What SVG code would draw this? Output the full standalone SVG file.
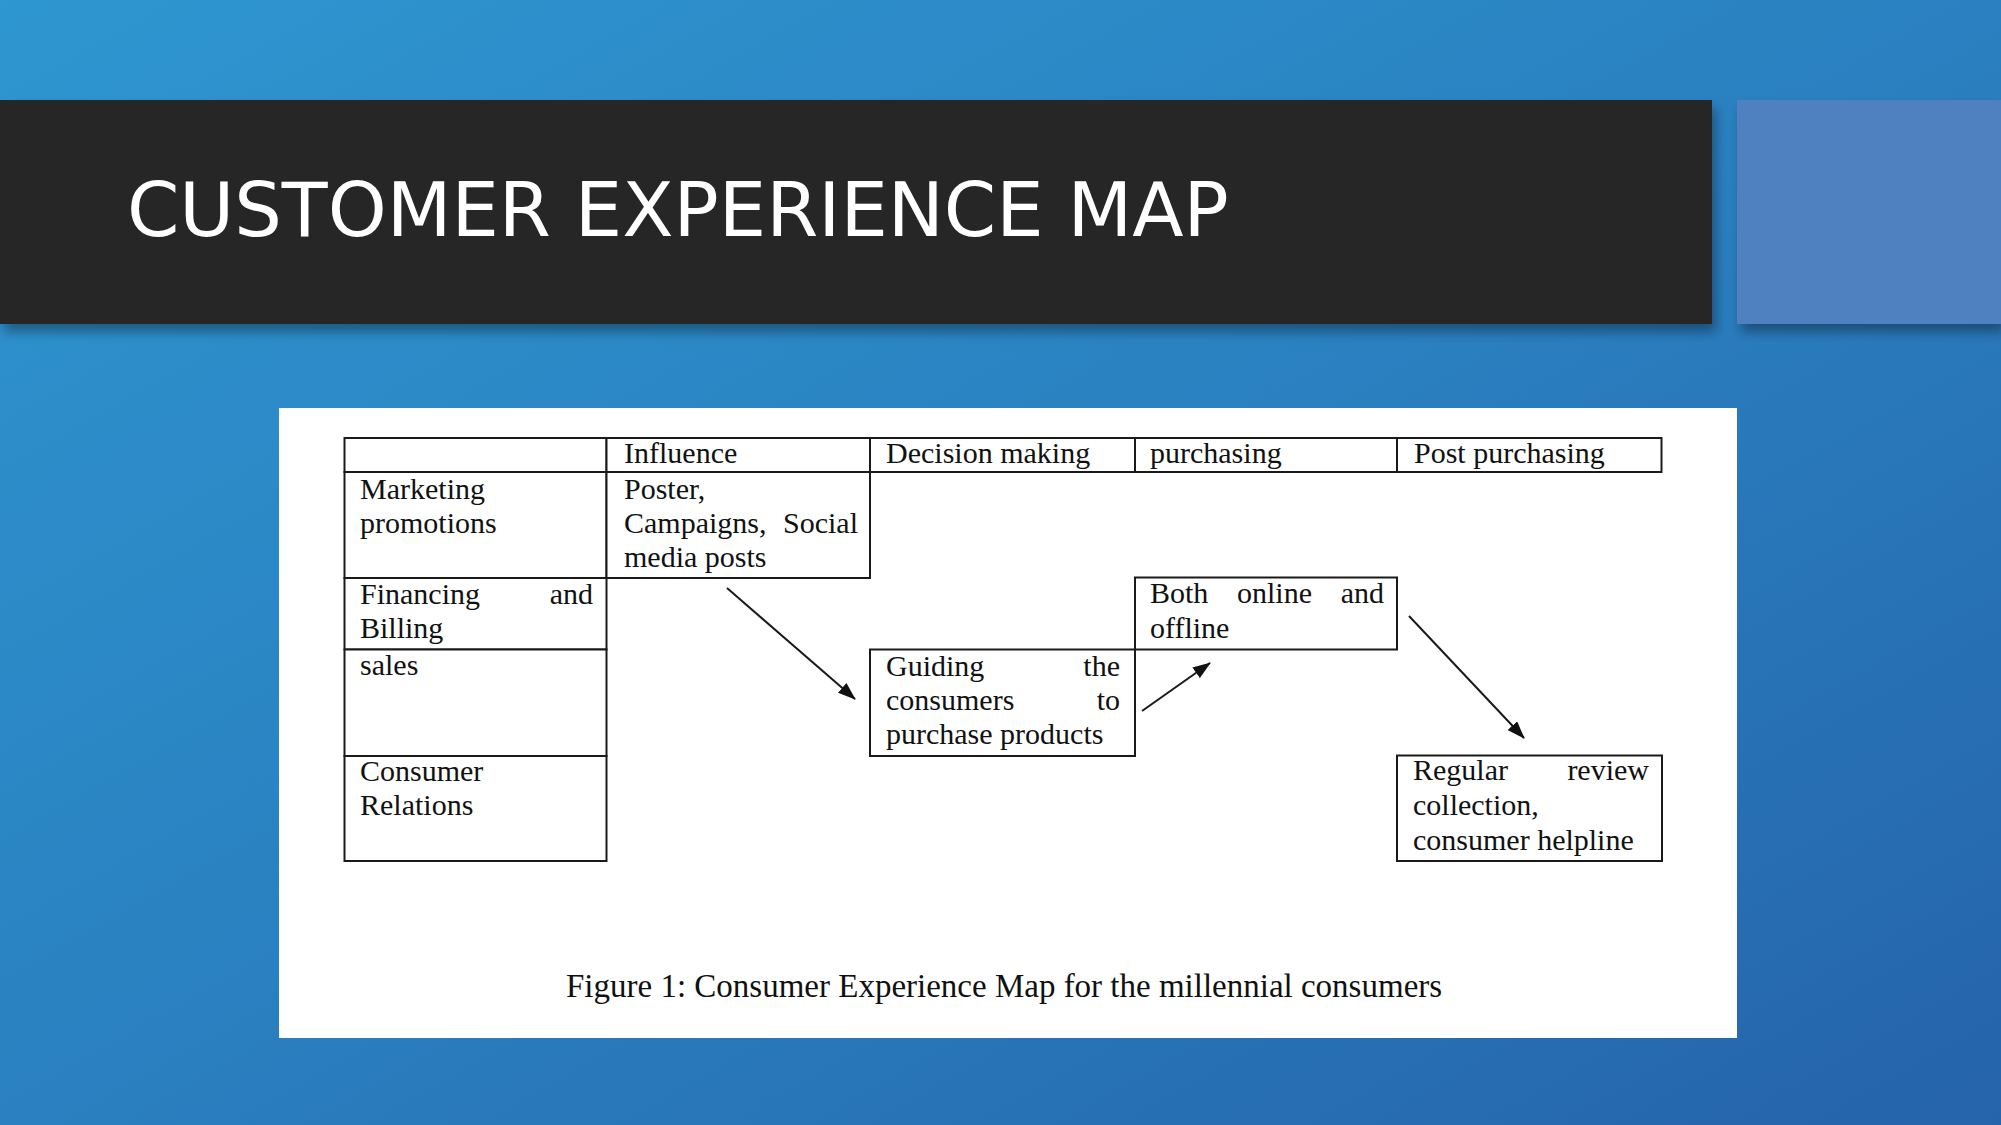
<svg xmlns="http://www.w3.org/2000/svg" width="2001" height="1125" viewBox="0 0 2001 1125">
  <defs>
    <linearGradient id="bg" x1="0" y1="0" x2="1" y2="1">
      <stop offset="0" stop-color="#2e96d0"/>
      <stop offset="0.5" stop-color="#2a80c0"/>
      <stop offset="1" stop-color="#2563ab"/>
    </linearGradient>
    <filter id="shadow" x="-5%" y="-10%" width="110%" height="130%">
      <feDropShadow dx="4" dy="8" stdDeviation="6" flood-color="#000" flood-opacity="0.35"/>
    </filter>
    <marker id="arrow" markerUnits="userSpaceOnUse" markerWidth="18" markerHeight="13" refX="17" refY="6.5" orient="auto">
      <path d="M0,0 L18,6.5 L0,13 z" fill="#111"/>
    </marker>
    <style>
      .cell { fill: #fff; stroke: #1a1a1a; stroke-width: 2; }
      .t { font-family: "Liberation Serif", "Times New Roman", serif; font-size: 30px; fill: #111; }
      .cap { font-family: "Liberation Serif", "Times New Roman", serif; font-size: 33px; fill: #111; }
      .title { font-family: "DejaVu Sans", "Liberation Sans", sans-serif; font-size: 75px; fill: #fff; }
      .conn { stroke: #1a1a1a; stroke-width: 2; fill: none; marker-end: url(#arrow); }
    </style>
  </defs>

  <rect x="0" y="0" width="2001" height="1125" fill="url(#bg)"/>

  <g id="banner">
    <rect x="0" y="100" width="1712" height="224" fill="#262626" filter="url(#shadow)"/>
    <text class="title" x="127" y="236">CUSTOMER EXPERIENCE MAP</text>
  </g>
  <g id="accent">
    <rect x="1737" y="100" width="264" height="224" fill="#4f80bf" filter="url(#shadow)"/>
  </g>

  <g id="figure">
    <rect x="279" y="408" width="1458" height="630" fill="#fff"/>
  </g>

  <g id="header">
    <rect class="cell" x="344.5" y="438" width="262" height="34"/>
    <rect class="cell" x="606.5" y="438" width="263.5" height="34"/>
    <rect class="cell" x="870" y="438" width="265" height="34"/>
    <rect class="cell" x="1135" y="438" width="262" height="34"/>
    <rect class="cell" x="1397" y="438" width="264.5" height="34"/>
    <text class="t" x="624" y="463">Influence</text>
    <text class="t" x="886" y="463">Decision making</text>
    <text class="t" x="1150" y="463">purchasing</text>
    <text class="t" x="1414" y="463">Post purchasing</text>
  </g>

  <g id="marketing">
    <rect class="cell" x="344.5" y="472" width="262" height="106"/>
    <text class="t" x="360" y="499">Marketing</text>
    <text class="t" x="360" y="533">promotions</text>
  </g>
  <g id="influence-cell">
    <rect class="cell" x="606.5" y="472" width="263.5" height="106"/>
    <text class="t" x="624" y="499">Poster,</text>
    <text class="t" x="624" y="533">Campaigns,</text>
    <text class="t" x="858" y="533" text-anchor="end">Social</text>
    <text class="t" x="624" y="567">media posts</text>
  </g>
  <g id="financing">
    <rect class="cell" x="344.5" y="578" width="262" height="71.5"/>
    <text class="t" x="360" y="604">Financing</text>
    <text class="t" x="593" y="604" text-anchor="end">and</text>
    <text class="t" x="360" y="638">Billing</text>
  </g>
  <g id="sales">
    <rect class="cell" x="344.5" y="649.5" width="262" height="106.5"/>
    <text class="t" x="360" y="675">sales</text>
  </g>
  <g id="relations">
    <rect class="cell" x="344.5" y="756" width="262" height="105"/>
    <text class="t" x="360" y="781">Consumer</text>
    <text class="t" x="360" y="815">Relations</text>
  </g>
  <g id="guiding">
    <rect class="cell" x="870" y="649.5" width="265" height="106.5"/>
    <text class="t" x="886" y="676">Guiding</text>
    <text class="t" x="1120" y="676" text-anchor="end">the</text>
    <text class="t" x="886" y="710">consumers</text>
    <text class="t" x="1120" y="710" text-anchor="end">to</text>
    <text class="t" x="886" y="744">purchase products</text>
  </g>
  <g id="both">
    <rect class="cell" x="1135" y="577.5" width="262" height="72"/>
    <text class="t" x="1150" y="603">Both</text>
    <text class="t" x="1237" y="603">online</text>
    <text class="t" x="1384" y="603" text-anchor="end">and</text>
    <text class="t" x="1150" y="638">offline</text>
  </g>
  <g id="regular">
    <rect class="cell" x="1397" y="755.5" width="265" height="105.5"/>
    <text class="t" x="1413" y="780">Regular</text>
    <text class="t" x="1649" y="780" text-anchor="end">review</text>
    <text class="t" x="1413" y="815">collection,</text>
    <text class="t" x="1413" y="850">consumer helpline</text>
  </g>

  <g id="connectors">
    <line class="conn" x1="727" y1="588" x2="855" y2="699"/>
    <line class="conn" x1="1142" y1="711" x2="1210" y2="663"/>
    <line class="conn" x1="1409" y1="616" x2="1524" y2="738"/>
  </g>

  <g id="caption">
    <text class="cap" x="566" y="997">Figure 1: Consumer Experience Map for the millennial consumers</text>
  </g>
</svg>
